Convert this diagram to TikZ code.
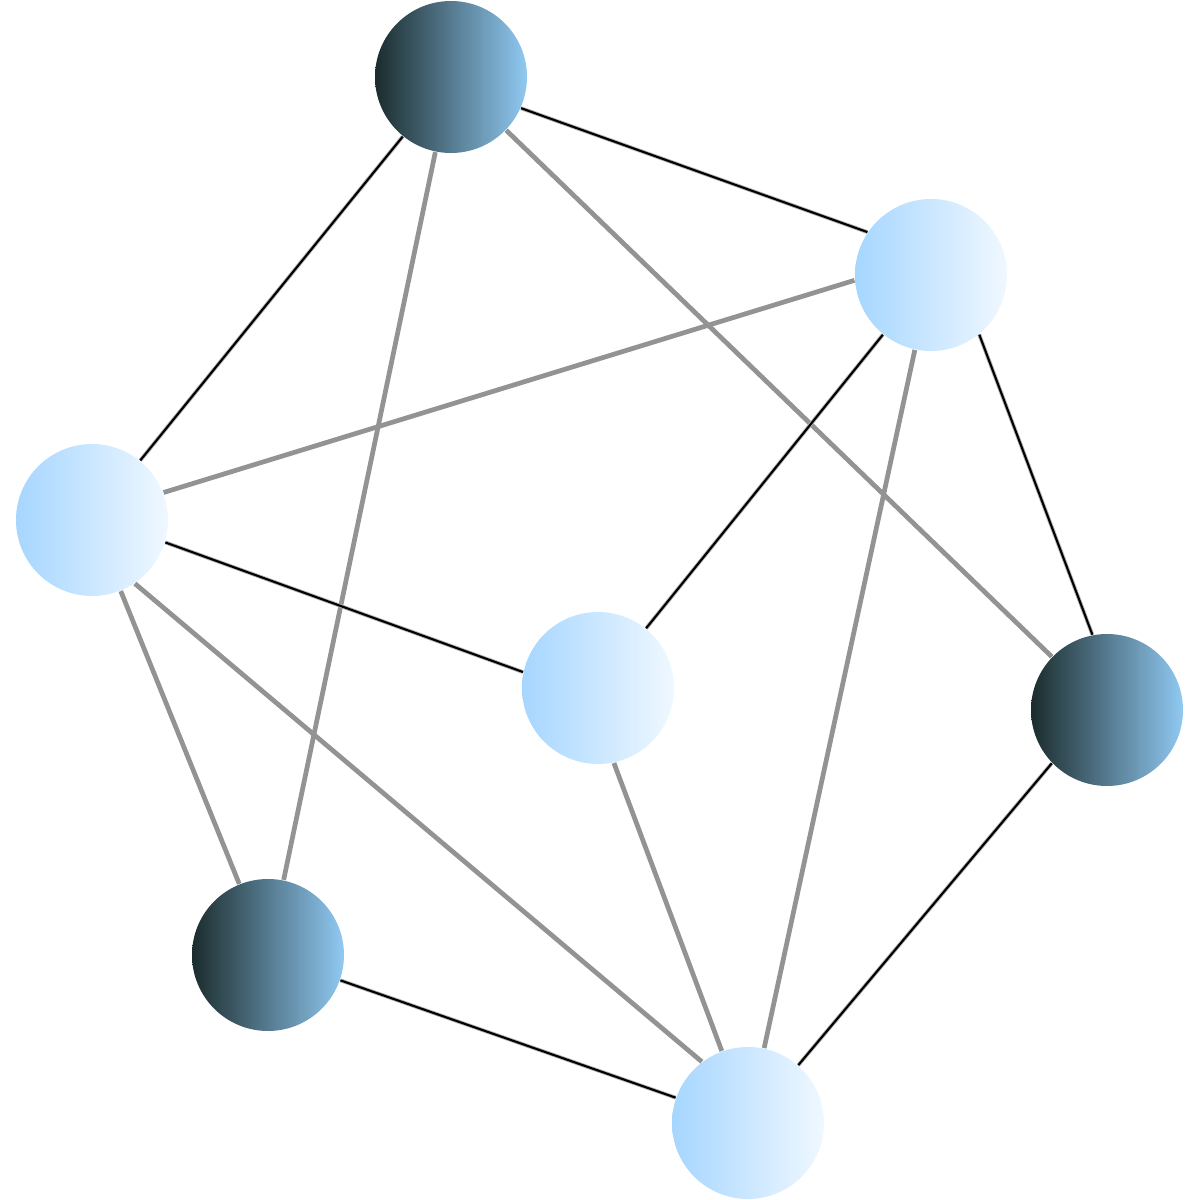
\documentclass[tikz,border=0pt]{standalone}
\usetikzlibrary{shapes.geometric}
\definecolor{deepteal}{HTML}{1B2C2D}
\definecolor{skyblue}{HTML}{90C9F2}
\definecolor{paleblue}{HTML}{A6D6FF}
\definecolor{iceblue}{HTML}{F0F8FF}
\definecolor{linegray}{HTML}{939393}
\tikzset{
  darkball/.style={circle, minimum size=1.52cm, inner sep=0pt, shading=axis, left color=deepteal, right color=skyblue},
  lightball/.style={circle, minimum size=1.52cm, inner sep=0pt, shading=axis, left color=paleblue, right color=iceblue},
  greylink/.style={draw=linegray, line width=1.35pt},
  blacklink/.style={draw=black, line width=0.6pt, preaction={draw=linegray!70, line width=1.1pt}}
}
\begin{document}
\begin{tikzpicture}
\useasboundingbox (0,0) rectangle (12,12);
% Balls
\node[darkball] (top) at (4.51,11.23) {};
\node[lightball] (upright) at (9.31,9.25) {};
\node[lightball] (left) at (0.92,6.80) {};
\node[lightball] (middle) at (5.98,5.12) {};
\node[darkball] (right) at (11.07,4.90) {};
\node[darkball] (lowleft) at (2.68,2.45) {};
\node[lightball] (bottom) at (7.48,0.77) {};
% Grey links
\draw[greylink] (top) -- (lowleft);
\draw[greylink] (top) -- (right);
\draw[greylink] (upright.184) -- (left.21);
\draw[greylink] (upright) -- (bottom);
\draw[greylink] (left) -- (lowleft);
\draw[greylink] (left.-56) -- (bottom.127);
\draw[greylink] (middle.-78) -- (bottom.110);
% Black links
\draw[blacklink] (top.-24) -- (upright.146);
\draw[blacklink] (top) -- (left);
\draw[blacklink] (upright) -- (middle);
\draw[blacklink] (upright.-51) -- (right.101);
\draw[blacklink] (left.-17) -- (middle.168);
\draw[blacklink] (right.-136) -- (bottom.49);
\draw[blacklink] (lowleft) -- (bottom);
\end{tikzpicture}
\end{document}
